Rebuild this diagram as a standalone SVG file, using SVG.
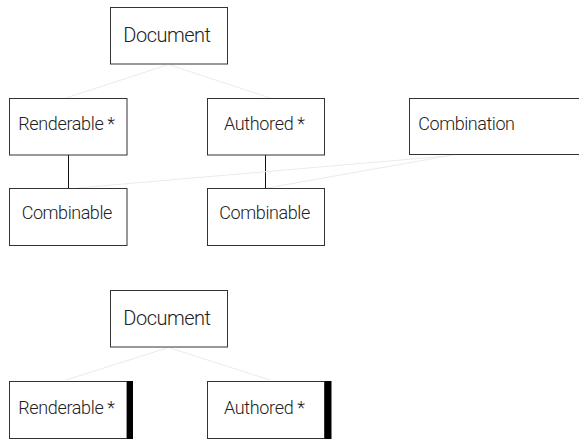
<svg xmlns="http://www.w3.org/2000/svg" width="579" height="439" viewBox="0 0 579 439">
<style>
.box{fill:#fff;stroke:#333;stroke-width:1}
.lbl{font-family:Roboto,"Liberation Sans",Arial,sans-serif;font-weight:300;font-size:18px;fill:#222}
.big{font-size:20px}
.light{stroke:#ebebeb;stroke-width:1;fill:none}
.dark{stroke:#111;stroke-width:1;fill:none}
.bar{fill:#000}
</style>
<rect width="579" height="439" fill="#fff"/>
<g id="connectors">
<line class="light" x1="167" y1="65" x2="66" y2="98"/>
<line class="light" x1="170" y1="65" x2="270" y2="98"/>
<line class="dark" x1="68.5" y1="155" x2="68.5" y2="188"/>
<line class="dark" x1="265.5" y1="155" x2="265.5" y2="188"/>
<line class="light" x1="447" y1="156" x2="77" y2="188"/>
<line class="light" x1="453" y1="155" x2="267" y2="188"/>
<line class="light" x1="167" y1="348" x2="66" y2="380"/>
<line class="light" x1="170" y1="348" x2="270" y2="380"/>
</g>
<g id="document1">
<rect class="box" x="110.5" y="7.5" width="117" height="56.5"/>
<text class="lbl big" x="123.3" y="42" textLength="87.7">Document</text>
</g>
<g id="renderable1">
<rect class="box" x="9.5" y="98.5" width="117.5" height="56.5"/>
<text class="lbl" x="18.3" y="130" textLength="96.7">Renderable *</text>
</g>
<g id="authored1">
<rect class="box" x="207.5" y="98.5" width="117" height="56.5"/>
<text class="lbl" x="224" y="130" textLength="81">Authored *</text>
</g>
<g id="combination">
<rect class="box" x="409.5" y="98.5" width="180" height="56"/>
<text class="lbl" x="418.3" y="130" textLength="96.7">Combination</text>
</g>
<g id="combinable1">
<rect class="box" x="9.5" y="188.5" width="117.5" height="57"/>
<text class="lbl" x="21.7" y="219.3" textLength="90.6">Combinable</text>
</g>
<g id="combinable2">
<rect class="box" x="207.5" y="188.5" width="117" height="57"/>
<text class="lbl" x="219.3" y="219.3" textLength="91">Combinable</text>
</g>
<g id="document2">
<rect class="box" x="110.5" y="290.5" width="117" height="56.5"/>
<text class="lbl big" x="123.3" y="324.7" textLength="87.7">Document</text>
</g>
<g id="renderable2">
<rect class="box" x="9.5" y="381.5" width="117.5" height="57"/>
<rect class="bar" x="127" y="381" width="6" height="58"/>
<text class="lbl" x="18.3" y="414" textLength="96.7">Renderable *</text>
</g>
<g id="authored2">
<rect class="box" x="207.5" y="381.5" width="117" height="57"/>
<rect class="bar" x="325" y="381" width="6.5" height="58"/>
<text class="lbl" x="224" y="414" textLength="81">Authored *</text>
</g>
</svg>
